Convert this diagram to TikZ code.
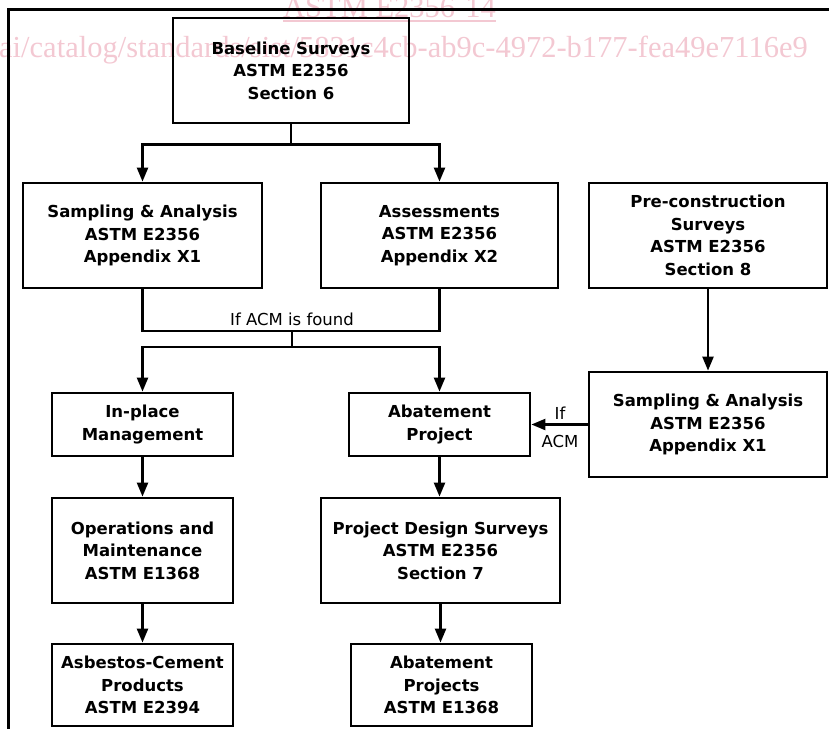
\documentclass[tikz,border=0pt]{standalone}
\usepackage{fontspec}
\setmainfont{DejaVu Sans}
\newfontfamily\wmfont{Liberation Serif}
\usetikzlibrary{arrows.meta,calc}
\definecolor{wmpink}{RGB}{243,200,210}
\begin{document}
\begin{tikzpicture}[x=1pt,y=-1pt,
  box/.style={draw=black, line width=2.8pt, inner sep=0pt, align=center,
    font=\fontsize{16.5}{22.5}\selectfont\bfseries},
  conn/.style={line width=2.3pt},
  arr/.style={line width=2.3pt, -{Triangle[length=14pt,width=11pt]}},
  lbl/.style={font=\fontsize{16.5}{20}\selectfont, inner sep=0pt, anchor=base},
  wm/.style={text=wmpink, inner sep=0pt, anchor=base west, font=\wmfont\fontsize{30.5}{32}\selectfont}]
\useasboundingbox (0,0) rectangle (829,728);
% watermark
\node[wm] (wm1) at (283,17) {ASTM E2356-14};
\draw[wmpink, line width=1.5pt] ($(wm1.base west)+(0,4)$) -- ($(wm1.base east)+(0,4)$);
\node[wm] (wm2) at (-1,57) {ai/catalog/standards/sist/5831c4cb-ab9c-4972-b177-fea49e7116e9};
% frame
\draw[line width=2.5pt] (835,9.5) -- (8.5,9.5) -- (8.5,740);
% boxes
\node[box, minimum width=236pt, minimum height=105pt] (base) at (291,70.5) {Baseline Surveys\\ASTM E2356\\Section 6};
\node[box, minimum width=239pt, minimum height=105pt] (samp1) at (142.5,235.5) {Sampling \& Analysis\\ASTM E2356\\Appendix X1};
\node[box, minimum width=237pt, minimum height=105pt] (assess) at (439.5,235.5) {Assessments\\ASTM E2356\\Appendix X2};
\node[box, minimum width=238pt, minimum height=105pt] (pre) at (708,235.5) {Pre-construction\\Surveys\\ASTM E2356\\Section 8};
\node[box, minimum width=181pt, minimum height=63pt] (inplace) at (142.5,424.5) {In-place\\Management};
\node[box, minimum width=181pt, minimum height=63pt] (abate) at (439.5,424.5) {Abatement\\Project};
\node[box, minimum width=238pt, minimum height=105pt] (samp2) at (708,424.5) {Sampling \& Analysis\\ASTM E2356\\Appendix X1};
\node[box, minimum width=181pt, minimum height=105pt] (ops) at (142.5,550.5) {Operations and\\Maintenance\\ASTM E1368};
\node[box, minimum width=239pt, minimum height=105pt] (pds) at (440.5,550.5) {Project Design Surveys\\ASTM E2356\\Section 7};
\node[box, minimum width=181pt, minimum height=82pt] (acp) at (142.5,685) {Asbestos-Cement\\Products\\ASTM E2394};
\node[box, minimum width=181pt, minimum height=82pt] (abps) at (441.5,685) {Abatement\\Projects\\ASTM E1368};
% connectors
\coordinate (b1) at (291,144.5);
\draw[conn] (base.south) -- (b1);
\draw[arr] (b1) -| (samp1.north);
\draw[arr] (b1) -| (assess.north);
\coordinate (j1) at (292,331);
\draw[conn] (samp1.south) |- (j1) -| (assess.south);
\node[lbl] (found) at (292,325) {If ACM is found};
\coordinate (j2) at (292,347);
\draw[conn] (j1) -- (j2);
\draw[arr] (j2) -| (inplace.north);
\draw[arr] (j2) -| (abate.north);
\draw[arr] (pre.south) -- (samp2.north);
\draw[arr] (samp2.west) -- (abate.east);
\node[lbl] (if) at (560,419) {If};
\node[lbl] (acm) at (560,447) {ACM};
\draw[arr] (inplace.south) -- (ops.north);
\draw[arr] (ops.south) -- (acp.north);
\draw[arr] (abate.south) -- (abate.south |- pds.north);
\draw[arr] (pds.south) -- (pds.south |- abps.north);
\end{tikzpicture}
\end{document}
